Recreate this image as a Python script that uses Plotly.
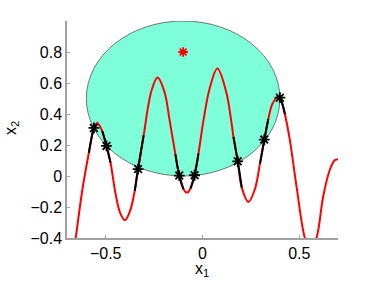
import plotly.graph_objects as go

# red curve samples
curve_x = [-0.672, -0.655, -0.621, -0.587, -0.561, -0.551, -0.543, -0.518, -0.496, -0.475,
           -0.449, -0.425, -0.401, -0.375, -0.350, -0.333, -0.304, -0.264, -0.232, -0.196,
           -0.170, -0.140, -0.120, -0.098, -0.080, -0.062, -0.041, -0.021, 0.005, 0.036,
           0.077, 0.122, 0.148, 0.160, 0.182, 0.203, 0.237, 0.270, 0.297, 0.319,
           0.340, 0.362, 0.393, 0.400, 0.413, 0.426, 0.451, 0.486, 0.529, 0.557,
           0.589, 0.623, 0.657, 0.683, 0.700]
curve_y = [-0.55, -0.40, -0.092, 0.150, 0.310, 0.333, 0.342, 0.290, 0.194, 0.085,
           -0.115, -0.240, -0.286, -0.228, -0.095, 0.045, 0.262, 0.548, 0.635, 0.540,
           0.360, 0.140, 0.003, -0.085, -0.107, -0.080, 0.005, 0.144, 0.359, 0.560,
           0.693, 0.545, 0.359, 0.252, 0.095, -0.075, -0.168, -0.088, 0.080, 0.232,
           0.368, 0.468, 0.512, 0.505, 0.462, 0.398, 0.235, -0.070, -0.40, -0.48,
           -0.40, -0.135, 0.037, 0.101, 0.108]

# x-windows of the black segments
seg_lo = [-0.590, -0.520, -0.352, -0.142, -0.064, 0.158, 0.295, 0.398]
seg_hi = [-0.549, -0.473, -0.302, -0.096, -0.019, 0.205, 0.342, 0.428]

# black star markers
star_x = [-0.561, -0.496, -0.333, -0.120, -0.041, 0.182, 0.319, 0.400]
star_y = [0.310, 0.194, 0.045, 0.003, 0.005, 0.095, 0.235, 0.505]

# red star
center_x = [-0.1]
center_y = [0.8]

# circle
circ_cx, circ_cy, circ_r = -0.1, 0.5, 0.5

x_ticks = [-0.5, 0, 0.5]
x_labels = ["\u22120.5", "0", "0.5"]
y_ticks = [-0.4, -0.2, 0, 0.2, 0.4, 0.6, 0.8]
y_labels = ["\u22120.4", "\u22120.2", "0", "0.2", "0.4", "0.6", "0.8"]

fig = go.Figure()
fig.add_shape(type="circle", xref="x", yref="y",
              x0=circ_cx - circ_r, x1=circ_cx + circ_r,
              y0=circ_cy - circ_r, y1=circ_cy + circ_r,
              fillcolor="#7FFFD9", line=dict(color="#555555", width=0.8), layer="below")

fig.add_trace(go.Scatter(x=curve_x, y=curve_y, mode="lines",
                         line=dict(color="#ff0000", width=2, shape="spline"),
                         hoverinfo="skip"))

for lo, hi in zip(seg_lo, seg_hi):
    sx = [x for x in curve_x if lo <= x <= hi]
    sy = [y for x, y in zip(curve_x, curve_y) if lo <= x <= hi]
    fig.add_trace(go.Scatter(x=sx, y=sy, mode="lines",
                             line=dict(color="#000000", width=2, shape="spline"),
                             hoverinfo="skip"))

fig.add_trace(go.Scatter(x=star_x, y=star_y, mode="markers",
                         marker=dict(symbol="asterisk-open", size=9, color="#000000",
                                     line=dict(color="#000000", width=1.8))))
fig.add_trace(go.Scatter(x=center_x, y=center_y, mode="markers",
                         marker=dict(symbol="asterisk-open", size=8, color="#ff0000",
                                     line=dict(color="#ff0000", width=1.8))))

axis_font = dict(family="Liberation Sans, Arial, sans-serif", size=16, color="#000000")

fig.add_annotation(text="x<sub>1</sub>", xref="x", x=-0.005, yref="paper", y=0,
                   yshift=-31, yanchor="middle", xanchor="center", showarrow=False,
                   font=axis_font)
fig.add_annotation(text="x<sub>2</sub>", xref="paper", x=0, xshift=-55, yref="y", y=0.31,
                   xanchor="center", yanchor="middle", textangle=-90, showarrow=False,
                   font=axis_font)

fig.update_layout(
    width=374, height=281,
    margin=dict(l=67, r=36, t=21, b=43),
    paper_bgcolor="white", plot_bgcolor="white",
    showlegend=False,
    font=axis_font,
    xaxis=dict(range=[-0.7, 0.7], tickvals=x_ticks, ticktext=x_labels, automargin=False,
               showgrid=False, zeroline=False, showline=True, linecolor="#a0a0a0",
               linewidth=1.5, ticks="inside", ticklen=3, tickcolor="#a0a0a0",
               tickfont=axis_font),
    yaxis=dict(range=[-0.4, 1.0], tickvals=y_ticks, ticktext=y_labels, automargin=False,
               showgrid=False, zeroline=False, showline=True, linecolor="#a0a0a0",
               linewidth=1.5, ticks="inside", ticklen=3, tickcolor="#a0a0a0",
               tickfont=axis_font),
)

fig.write_html("out.html", config={"displayModeBar": False},
               post_script="document.body.style.margin='0';")
